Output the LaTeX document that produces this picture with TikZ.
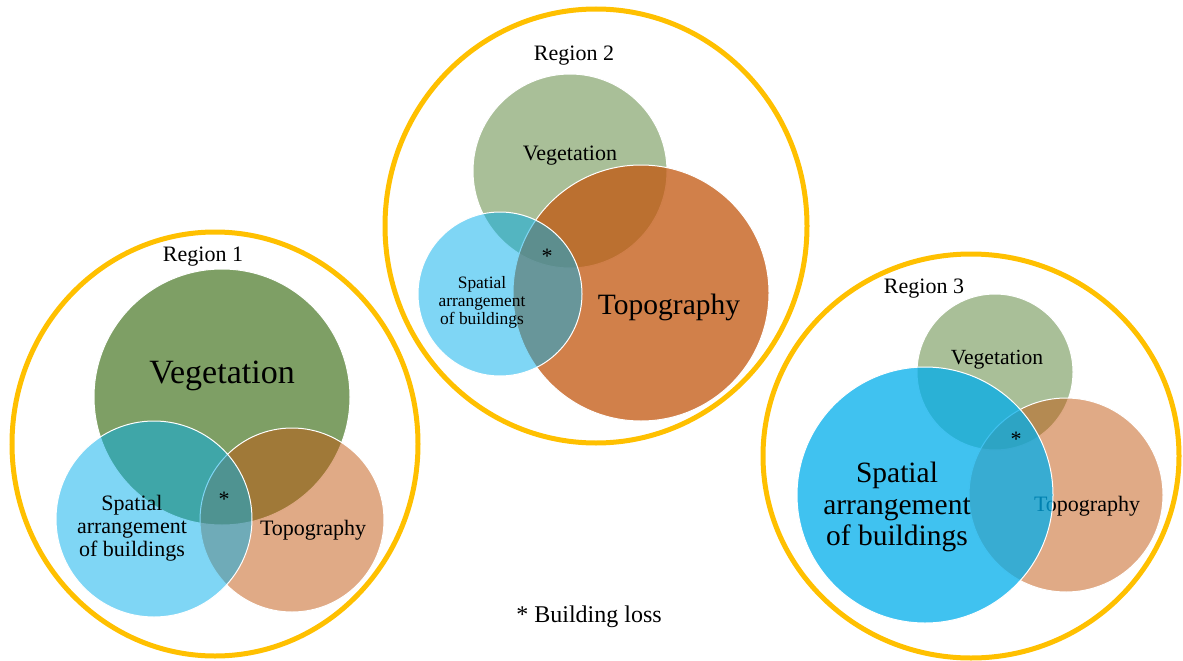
\documentclass[tikz,border=0pt]{standalone}
\usepackage{fontspec}
\setmainfont{Liberation Serif}
\usetikzlibrary{shapes.geometric}
\definecolor{ringcol}{HTML}{FFC000}
\definecolor{vegcol}{HTML}{537F31}
\definecolor{topocol}{HTML}{C1550D}
\definecolor{spacol}{HTML}{00ADEB}
\begin{document}
\begin{tikzpicture}[x=1pt,y=-1pt,
    ring/.style={ellipse,draw=ringcol,line width=5pt,inner sep=0pt},
    venn/.style={circle,draw=white,line width=1pt,inner sep=0pt,minimum size=#1},
    txt/.style={inner sep=0pt,align=center,font=\fontsize{#1}{#1}\selectfont}]
    \useasboundingbox (0,0) rectangle (1183,661);
    % Region 1
    \node[ring,minimum width=406pt,minimum height=424pt] (ring1) at (215,444) {};
    \node[txt=22] (reg1) at (203,257) {Region 1};
    \node[venn=256pt,fill=vegcol,fill opacity=.75] (veg1) at (222,397) {};
    \node[txt=34] (vegtxt1) at (222,376) {Vegetation};
    \node[venn=184pt,fill=topocol,fill opacity=.5] (topo1) at (292,520) {};
    \node[txt=22] (topotxt1) at (313,530) {Topography};
    \node[venn=196pt,fill=spacol,fill opacity=.5] (spa1) at (154,519) {};
    \node[txt=22,font=\fontsize{22}{23}\selectfont] (spatxt1) at (132,528) {Spatial\\arrangement\\of buildings};
    \node[txt=22,anchor=base] (star1) at (224,506) {*};
    % Region 2
    \node[ring,minimum width=422pt,minimum height=434pt] (ring2) at (596,226) {};
    \node[txt=22] (reg2) at (574,56) {Region 2};
    \node[venn=194pt,fill=vegcol,fill opacity=.5] (veg2) at (570,171) {};
    \node[txt=22] (vegtxt2) at (570,156) {Vegetation};
    \node[venn=256pt,fill=topocol,fill opacity=.75] (topo2) at (641,293) {};
    \node[txt=29.5] (topotxt2) at (669,307) {Topography};
    \node[venn=164pt,fill=spacol,fill opacity=.5] (spa2) at (500,294) {};
    \node[txt=17.4,font=\fontsize{17.4}{18}\selectfont] (spatxt2) at (482,302) {Spatial\\arrangement\\of buildings};
    \node[txt=22,anchor=base] (star2) at (547,263) {*};
    % Region 3
    \node[ring,minimum width=416pt,minimum height=404pt] (ring3) at (971,456) {};
    \node[txt=22] (reg3) at (924,289) {Region 3};
    \node[venn=156pt,fill=vegcol,fill opacity=.5] (veg3) at (995,372) {};
    \node[txt=21.6] (vegtxt3) at (997,360) {Vegetation};
    \node[venn=194pt,fill=topocol,fill opacity=.5] (topo3) at (1066,495) {};
    \node[txt=22] (topotxt3) at (1087,506) {Topography};
    \node[venn=256pt,fill=spacol,fill opacity=.75] (spa3) at (925,495) {};
    \node[txt=29.5,font=\fontsize{29.5}{31.5}\selectfont] (spatxt3) at (897,507) {Spatial\\arrangement\\of buildings};
    \node[txt=22,anchor=base] (star3) at (1016,446) {*};
    % legend
    \node[txt=24] (loss) at (589,617) {* Building loss};
\end{tikzpicture}
\end{document}
